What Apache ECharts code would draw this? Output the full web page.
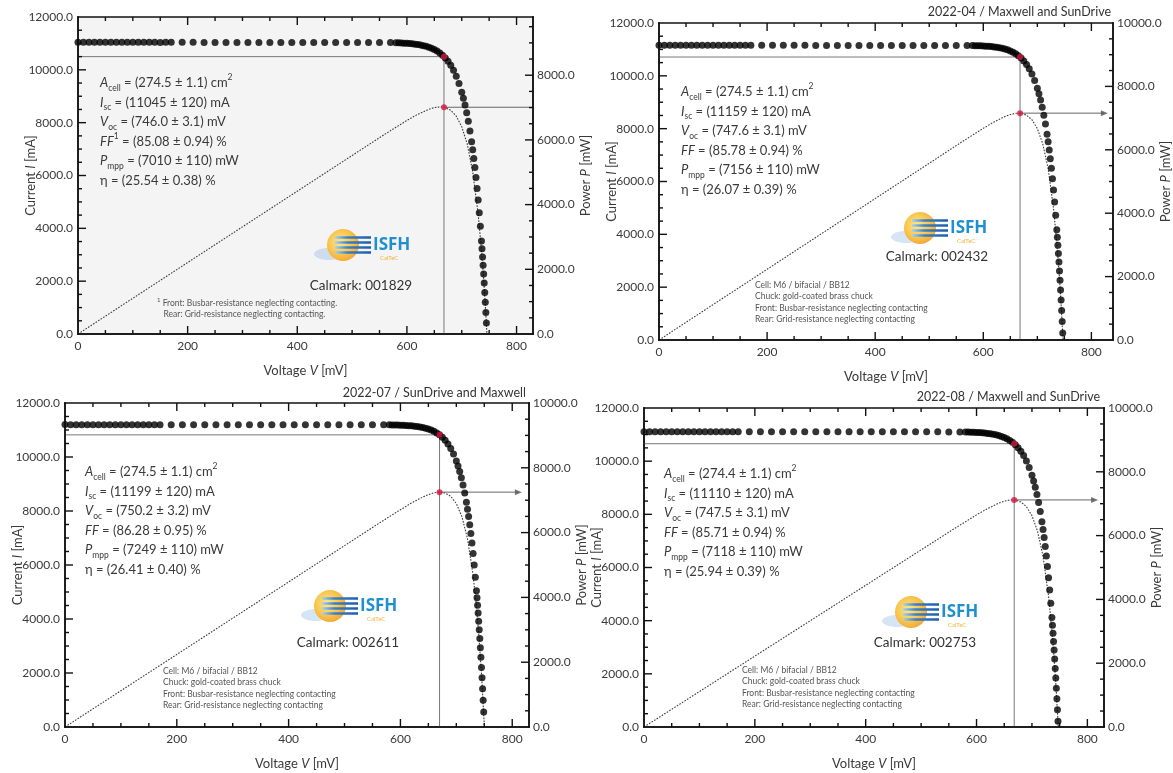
<!DOCTYPE html>
<html><head><meta charset="utf-8">
<script src="https://cdn.jsdelivr.net/npm/echarts@6/dist/echarts.min.js"></script>
<style>html,body{margin:0;padding:0;background:#fff}#c{width:1173px;height:773px}</style>
</head><body><div id="c"></div>
<script>
// ---------- DATA ----------
const voltGrid = [0,10,20,30,40,50,60,70,80,90,100,110,120,130,140,150,160,170,
 190,210,230,250,270,290,310,330,350,370,390,410,430,450,470,490,510,530,550,570,
 580,585,590,595,600,605,610,615,620,625,630,635,640,645,650,655,660,665,670,675,680,685,690,695,700,
 703,706,709,712,715,718,720,722,724,726,728,730,732,734,736];
const curr1 = [11046,11044,11045,11043,11045,11044,11042,11044,11043,11041,11043,11042,11040,11042,11041,11039,11041,11040,
 11040,11040,11039,11039,11039,11038,11038,11038,11037,11037,11037,11036,11036,11036,11035,11035,11035,11034,11034,11032,
 11026,11022,11017,11011,11004,10996,10985,10973,10957,10939,10916,10889,10856,10816,10768,10709,10638,10552,10448,10322,10169,9983,9758,9487,9156,
 8925,8667,8375,8050,7685,7274,6974,6648,6299,5920,5510,5068,4590,4079,3522];
const voltTail1 = [737,738,739,740,741,742,743,744,745];
const currTail1 = [3226,2919,2602,2272,1928,1573,1202,816,416];
const curr2 = [11160,11158,11159,11157,11159,11158,11156,11158,11157,11155,11157,11156,11154,11156,11155,11153,11155,11154,
 11154,11154,11153,11153,11153,11152,11152,11152,11151,11151,11151,11150,11150,11150,11149,11149,11149,11148,11148,11147,
 11146,11143,11140,11136,11130,11124,11116,11107,11095,11080,11063,11041,11015,10983,10943,10895,10836,10763,10674,10566,10433,10270,10071,9828,9530,
 9320,9084,8815,8512,8172,7786,7503,7194,6861,6498,6105,5679,5221,4721,4178];
const voltTail2 = [737,738,739,740,741,742,743,744,745,746,747];
const currTail2 = [3889,3589,3276,2951,2613,2261,1894,1511,1114,699,268];
const curr3 = [11200,11198,11199,11197,11199,11198,11196,11198,11197,11195,11197,11196,11194,11196,11195,11193,11195,11194,
 11195,11195,11195,11194,11194,11194,11194,11194,11193,11193,11193,11193,11193,11193,11193,11193,11193,11193,11193,11192,
 11191,11189,11186,11183,11179,11175,11169,11162,11153,11142,11129,11112,11092,11067,11036,10998,10950,10892,10820,10731,10621,10485,10317,10109,9853,
 9671,9465,9231,8966,8665,8322,8069,7792,7493,7168,6811,6426,6004,5548,5047];
const voltTail3 = [737,738,739,740,741,742,743,744,745,746,747,748,749];
const currTail3 = [4784,4508,4219,3918,3604,3277,2934,2579,2207,1820,1414,993,553];
const curr4 = [11111,11109,11110,11108,11110,11109,11107,11109,11108,11106,11108,11107,11105,11107,11106,11104,11106,11105,
 11106,11106,11106,11105,11105,11105,11105,11104,11104,11104,11104,11103,11103,11103,11103,11102,11102,11102,11101,11100,
 11097,11094,11090,11086,11081,11074,11066,11056,11044,11030,11012,10990,10963,10930,10890,10841,10781,10708,10618,10508,10375,10211,10010,9766,9467,
 9256,9017,8749,8446,8104,7719,7434,7127,6793,6432,6039,5615,5154,4655,4115];
const voltTail4 = [737,738,739,740,741,742,743,744,745,746,747];
const currTail4 = [3827,3529,3217,2893,2556,2204,1840,1459,1063,650,221];

const pVolt1 = [0,100,200,300,400,500,560,600,620,640,650,660,665,670,680,690,700,710,720,730,735,740,743,746];
const pow1   = [0,1104,2209,3312,4415,5518,6180,6602,6793,6948,6999,7021,7017,7000,6915,6733,6409,5873,5021,3700,2796,1681,893,0];
const pVolt2 = [0,100,200,300,400,500,560,600,620,640,650,660,665,670,680,690,700,710,720,730,736,740,744,747.6];
const pow2   = [0,1116,2231,3346,4461,5575,6245,6678,6879,7050,7113,7152,7157,7152,7094,6949,6671,6190,5402,4146,3075,2184,1124,0];
const pVolt3 = [0,100,200,300,400,500,560,600,620,640,650,660,665,670,675,680,690,700,710,720,730,736,740,745,750.2];
const pow3   = [0,1120,2239,3358,4477,5597,6269,6707,6915,7099,7173,7227,7243,7249,7243,7222,7119,6897,6494,5810,4691,3715,2899,1644,0];
const pVolt4 = [0,100,200,300,400,500,560,600,620,640,650,660,665,670,680,690,700,710,720,730,736,740,744,747.5];
const pow4   = [0,1111,2221,3331,4442,5552,6218,6649,6847,7016,7079,7115,7121,7114,7055,6907,6627,6142,5352,4099,3029,2141,1085,0];

const vMpp = [667.6, 668, 670, 668];
const iMpp = [10500, 10712, 10820, 10656];
const pMpp = [7010, 7156, 7249, 7118];

// tick values
const xTickMajor = [200,400,600,800];
const xTickMinor = [50,100,150,250,300,350,450,500,550,650,700,750];
const iTickMajor = [2000,4000,6000,8000,10000];
const iTickMinor = [500,1000,1500,2500,3000,3500,4500,5000,5500,6500,7000,7500,8500,9000,9500,10500,11000,11500];
const pTickMajor = [2000,4000,6000,8000];
const pTickMinor = [500,1000,1500,2500,3000,3500,4500,5000,5500,6500,7000,7500,8500,9000,9500];
const currMax = 12000;

const titles = ['', '2022-04 / Maxwell and SunDrive', '2022-07 / SunDrive and Maxwell', '2022-08 / Maxwell and SunDrive'];
const calmarks = ['Calmark: 001829', 'Calmark: 002432', 'Calmark: 002611', 'Calmark: 002753'];
const stats = [
 ['{i|A}{sub|cell} = (274.5 ± 1.1) cm{sup|2}','{i|I}{sub|sc} = (11045 ± 120) mA','{i|V}{sub|oc} = (746.0 ± 3.1) mV','{i|FF}{sup|1} = (85.08 ± 0.94) %','{i|P}{sub|mpp} = (7010 ± 110) mW','η = (25.54 ± 0.38) %'],
 ['{i|A}{sub|cell} = (274.5 ± 1.1) cm{sup|2}','{i|I}{sub|sc} = (11159 ± 120) mA','{i|V}{sub|oc} = (747.6 ± 3.1) mV','{i|FF} = (85.78 ± 0.94) %','{i|P}{sub|mpp} = (7156 ± 110) mW','η = (26.07 ± 0.39) %'],
 ['{i|A}{sub|cell} = (274.5 ± 1.1) cm{sup|2}','{i|I}{sub|sc} = (11199 ± 120) mA','{i|V}{sub|oc} = (750.2 ± 3.2) mV','{i|FF} = (86.28 ± 0.95) %','{i|P}{sub|mpp} = (7249 ± 110) mW','η = (26.41 ± 0.40) %'],
 ['{i|A}{sub|cell} = (274.4 ± 1.1) cm{sup|2}','{i|I}{sub|sc} = (11110 ± 120) mA','{i|V}{sub|oc} = (747.5 ± 3.1) mV','{i|FF} = (85.71 ± 0.94) %','{i|P}{sub|mpp} = (7118 ± 110) mW','η = (25.94 ± 0.39) %']
];
const noteLong = ['Cell: M6 / bifacial / BB12','Chuck: gold-coated brass chuck','Front: Busbar-resistance neglecting contacting','Rear: Grid-resistance neglecting contacting'];
const notes = [
 ['{sup|1} Front: Busbar-resistance neglecting contacting.','   Rear: Grid-resistance neglecting contacting.'],
 noteLong, noteLong, noteLong
];

// ---------- LAYOUT ----------
const layout = [
 {left:78, top:17, width:455, height:317, xMax:830, pMax:9800, bg:'#f4f4f4', arrowEnd:830, arrow:false,
  stat:[100,83], note:[157,303], title:null, logo:[343,245], cal:[361,286]},
 {left:659, top:23, width:454, height:317, xMax:840, pMax:10000, bg:null, arrowEnd:824, arrow:true,
  stat:[681,92], note:[755,285], title:[1111,12], logo:[920,228], cal:[937,257]},
 {left:65, top:403, width:464, height:324, xMax:830, pMax:10000, bg:null, arrowEnd:811, arrow:true,
  stat:[85,472], note:[163,671], title:[526,393], logo:[330,606], cal:[348,643]},
 {left:644, top:408, width:460, height:319, xMax:830, pMax:10000, bg:null, arrowEnd:813, arrow:true,
  stat:[664,474], note:[742,670], title:[1100,397], logo:[911,612], cal:[925,643]}
];
const ivVolt = [voltGrid.concat(voltTail1), voltGrid.concat(voltTail2), voltGrid.concat(voltTail3), voltGrid.concat(voltTail4)];
const ivCurr = [curr1.concat(currTail1), curr2.concat(currTail2), curr3.concat(currTail3), curr4.concat(currTail4)];
const pVolts = [pVolt1,pVolt2,pVolt3,pVolt4];
const pows = [pow1,pow2,pow3,pow4];

const FONT = 'Lato';
const TXT = '#3a3a3a';
const AX = '#111111';
const LW = 1.5, TW = 1.4, MAJ = 8, MIN = 4;
const nameStyle = () => ({color:TXT, fontFamily:FONT, fontSize:13,
  rich:{n:{fontFamily:FONT,fontSize:13,color:TXT}, i:{fontFamily:FONT,fontSize:13,color:TXT,fontStyle:'italic'}}});

const option = {animation:false, backgroundColor:'#fff',
  grid:[], xAxis:[], yAxis:[], series:[], graphic:{elements:[]}};

function logo(cx, cy){
  const stripeFill = new echarts.graphic.LinearGradient(0,0,1,0,[{offset:0,color:'#a9d2f2'},{offset:0.35,color:'#3a80c8'},{offset:1,color:'#1d5dab'}]);
  return {type:'group', x:cx, y:cy, z:50, silent:true, children:[
    {type:'ellipse', shape:{cx:-14,cy:9,rx:15,ry:6}, style:{fill:'rgba(120,170,225,0.30)'}},
    {type:'circle', shape:{cx:0,cy:0,r:16}, style:{fill:new echarts.graphic.RadialGradient(0.42,0.42,0.7,[{offset:0,color:'#fde98e'},{offset:0.55,color:'#f8c44c'},{offset:1,color:'#f19b2c'}])}},
    ...[-7.5,-2.5,2.5,7.5].map(dy=>({type:'rect', shape:{x:-8,y:dy-1.3,width:36,height:2.6}, style:{fill:stripeFill}})),
    {type:'text', x:30, y:0, style:{text:'ISFH', fontFamily:'Open Sans', fontWeight:'bold', fontSize:17, fill:'#1f8fcf', align:'left', verticalAlign:'middle'}},
    {type:'text', x:37, y:13, style:{text:'CalTeC', fontFamily:FONT, fontSize:6, fill:'#f2b33d', align:'left', verticalAlign:'middle'}}
  ]};
}

const axisIdx = [];
layout.forEach((l,g)=>{
  option.grid.push({left:l.left, top:l.top, width:l.width, height:l.height, show:!!l.bg,
    backgroundColor:l.bg||'transparent', borderWidth:0});

  const xi = option.xAxis.length;
  option.xAxis.push({type:'value', gridIndex:g, min:0, max:l.xMax, position:'bottom', interval:200, splitLine:{show:false},
    axisLine:{show:true,onZero:false,lineStyle:{color:AX,width:LW}},
    axisTick:{show:false},
    axisLabel:{show:true,margin:6,color:TXT,fontSize:12,fontFamily:FONT,formatter:v=>String(v),showMaxLabel:l.xMax%200===0},
    name:'{n|Voltage }{i|V}{n| [mV]}', nameLocation:'middle', nameGap:30, nameMoveOverlap:false, nameTextStyle:nameStyle()});
  const yl = option.yAxis.length;
  option.yAxis.push({type:'value', gridIndex:g, min:0, max:currMax, position:'left', interval:2000, splitLine:{show:false},
    axisLine:{show:true,onZero:false,lineStyle:{color:AX,width:LW}},
    axisTick:{show:false},
    axisLabel:{show:true,margin:5,color:TXT,fontSize:12,fontFamily:FONT,formatter:v=>v.toFixed(1)},
    name:'{n|Current }{i|I}{n| [mA]}', nameLocation:'middle', nameRotate:90, nameGap:41, nameMoveOverlap:false, nameTextStyle:nameStyle()});
  const yr = option.yAxis.length;
  option.yAxis.push({type:'value', gridIndex:g, min:0, max:l.pMax, position:'right', interval:2000, splitLine:{show:false},
    axisLine:{show:true,onZero:false,lineStyle:{color:AX,width:LW}},
    axisTick:{show:false},
    axisLabel:{show:true,margin:4,color:TXT,fontSize:12,fontFamily:FONT,formatter:v=>v.toFixed(1),showMaxLabel:l.pMax%2000===0},
    name:'{n|Power }{i|P}{n| [mW]}', nameLocation:'middle', nameRotate:90, nameGap:46, nameMoveOverlap:false, nameTextStyle:nameStyle()});
  axisIdx.push({xi:xi, yl:yl, yr:yr});

  // ---- data ----
  option.series.push({type:'line', xAxisIndex:xi, yAxisIndex:yl, z:1, showSymbol:false, silent:true,
    lineStyle:{color:'#777',width:1}, data:[[0,iMpp[g]],[vMpp[g],iMpp[g]],[vMpp[g],0]]});
  option.series.push({type:'line', xAxisIndex:xi, yAxisIndex:yr, z:2, showSymbol:false, silent:true,
    lineStyle:{color:'#3a3a3a',width:1.1,type:[1.6,1.4]}, data:pVolts[g].map((v,k)=>[v,pows[g][k]])});
  option.series.push({type:'line', xAxisIndex:xi, yAxisIndex:yr, z:2, showSymbol:false, silent:true,
    lineStyle:{color:'#666',width:1}, data:[[vMpp[g],pMpp[g]],[l.arrowEnd,pMpp[g]]]});
  if (l.arrow) option.series.push({type:'scatter', xAxisIndex:xi, yAxisIndex:yr, z:2, symbol:'triangle', symbolRotate:-90,
    symbolSize:[6,7], silent:true, clip:false, itemStyle:{color:'#555'}, data:[[l.arrowEnd,pMpp[g]]]});
  option.series.push({type:'scatter', xAxisIndex:xi, yAxisIndex:yl, z:3, symbol:'circle', symbolSize:7, silent:true,
    itemStyle:{color:'#000'}, data:ivVolt[g].map((v,k)=>[v,ivCurr[g][k]])});
  option.series.push({type:'scatter', xAxisIndex:xi, yAxisIndex:yl, z:4, symbolSize:6, silent:true,
    itemStyle:{color:'#d3173f'}, data:[[vMpp[g],iMpp[g]]]});
  option.series.push({type:'scatter', xAxisIndex:xi, yAxisIndex:yr, z:4, symbolSize:6, silent:true,
    itemStyle:{color:'#d3173f'}, data:[[vMpp[g],pMpp[g]]]});

  const E = option.graphic.elements;
  E.push({type:'text', x:l.stat[0], y:l.stat[1]-9.75, z:60, silent:true, style:{text:stats[g].join('\n'),
    fontFamily:FONT, fontSize:13, fill:TXT, lineHeight:19.5, align:'left', verticalAlign:'top',
    rich:{i:{fontFamily:FONT,fontSize:13,fontStyle:'italic',fill:TXT,lineHeight:19.5},
          sub:{fontFamily:FONT,fontSize:8.5,fill:TXT,lineHeight:10,verticalAlign:'bottom'},
          sup:{fontFamily:FONT,fontSize:8.5,fill:TXT,lineHeight:10,verticalAlign:'top'}}}});
  E.push({type:'text', x:l.note[0], y:l.note[1]-5.75, z:60, silent:true, style:{text:notes[g].join('\n'),
    fontFamily:FONT, fontSize:8.5, fill:'#555', lineHeight:11.5, align:'left', verticalAlign:'top',
    rich:{sup:{fontFamily:FONT,fontSize:6,fill:'#555',lineHeight:6,verticalAlign:'top'}}}});
  if (l.title) E.push({type:'text', x:l.title[0], y:l.title[1], z:60, silent:true, style:{text:titles[g],
    fontFamily:FONT, fontSize:12.5, fill:'#333', align:'right', verticalAlign:'middle'}});
  E.push(logo(l.logo[0], l.logo[1]));
  E.push({type:'text', x:l.cal[0], y:l.cal[1], z:60, silent:true, style:{text:calmarks[g],
    fontFamily:FONT, fontSize:13.5, fill:'#333', align:'center', verticalAlign:'middle'}});
});

const chart = echarts.init(document.getElementById('c'), null, {renderer:'canvas'});
chart.setOption(option);

// frame and inward ticks as filled bars, positioned through the axes' own scales
const bars = [];
function bar(x, y, w, h){ bars.push({type:'rect', z:58, silent:true, shape:{x:x, y:y, width:w, height:h}, style:{fill:AX}}); }
layout.forEach((l,g)=>{
  const a = axisIdx[g];
  const X = v => chart.convertToPixel({xAxisIndex:a.xi}, v);
  const YL = v => chart.convertToPixel({yAxisIndex:a.yl}, v);
  const YR = v => chart.convertToPixel({yAxisIndex:a.yr}, v);
  const x0 = X(0), x1 = X(l.xMax), yb = YL(0), yt = YL(currMax);
  const h = LW/2;
  bar(x0-h, yt-h, x1-x0+LW, LW);
  bar(x0-h, yb-h, x1-x0+LW, LW);
  bar(x0-h, yt-h, LW, yb-yt+LW);
  bar(x1-h, yt-h, LW, yb-yt+LW);
  const xt = xTickMajor.filter(v=>v<l.xMax).map(v=>[v,MAJ]).concat(xTickMinor.filter(v=>v<l.xMax).map(v=>[v,MIN]));
  xt.forEach(([v,len])=>{ const p = X(v); bar(p-TW/2, yb-len, TW, len); bar(p-TW/2, yt, TW, len); });
  const it = iTickMajor.map(v=>[v,MAJ]).concat(iTickMinor.map(v=>[v,MIN]));
  it.forEach(([v,len])=>{ const p = YL(v); bar(x0, p-TW/2, len, TW); });
  const pt = pTickMajor.filter(v=>v<l.pMax).map(v=>[v,MAJ]).concat(pTickMinor.filter(v=>v<l.pMax).map(v=>[v,MIN]));
  pt.forEach(([v,len])=>{ const p = YR(v); bar(x1-len, p-TW/2, len, TW); });
});
option.graphic.elements = option.graphic.elements.concat(bars);
chart.setOption(option, true);
</script></body></html>
